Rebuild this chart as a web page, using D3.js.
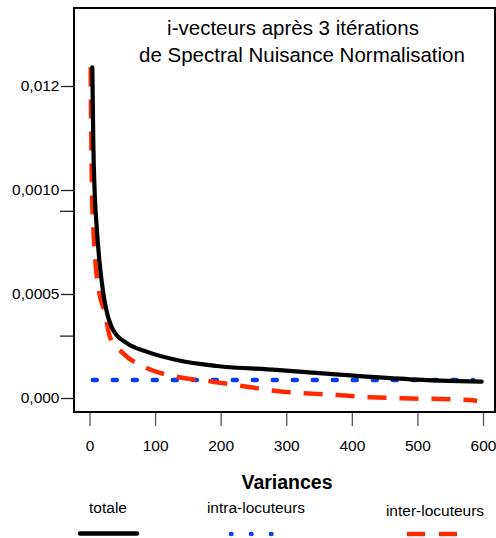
<!DOCTYPE html>
<html><head><meta charset="utf-8">
<script src="https://cdn.jsdelivr.net/npm/d3@7"></script>
<style>body{margin:0;background:#fff}svg{display:block}text{font-family:"Liberation Sans",Arial,Helvetica,sans-serif}</style>
</head><body>
<svg id="c" width="496" height="538"></svg>
<script>
// ---- data ----
const titleLines = ["i-vecteurs après 3 itérations", "de Spectral Nuisance Normalisation"];
const xTicks = [0, 100, 200, 300, 400, 500, 600];
const yTickValues = [0, 0.0005, 0.0010, 0.0015];
const yTickLabels = ["0,000", "0,0005", "0,0010", "0,012"];
const yMinorTicks = [0.0003, 0.0009];

const totaleX = [4.3, 5.8, 7.9, 11, 15, 21, 25, 36, 57, 87, 133, 194, 285, 386, 489, 598];
const totaleY = [0.00159, 0.001226, 0.000986, 0.000822, 0.000663, 0.000505, 0.000433, 0.000327, 0.000264, 0.000223, 0.000183, 0.000154, 0.000135, 0.000111, 0.0000899, 0.0000784];

const intraX = [5, 100, 200, 300, 400, 500, 585];
const intraY = [0.0000865, 0.0000865, 0.0000865, 0.0000865, 0.0000865, 0.0000865, 0.0000865];

const interX = [1.8, 3.8, 5.8, 8.8, 15, 23.6, 31, 51, 87, 133, 188, 240, 285, 377, 428, 478, 580, 591];
const interY = [0.00159, 0.000986, 0.000822, 0.000663, 0.000505, 0.000409, 0.000295, 0.000216, 0.000144, 0.000102, 0.0000784, 0.0000543, 0.0000337, 0.0000144, 0.0000034, -0.0000014, -0.0000096, -0.0000144];

const legendNames = ["totale", "intra-locuteurs", "inter-locuteurs"];

// ---- layout ----
const svg = d3.select("#c");
const frame = {l: 74, t: 8, r: 495, b: 412};
const x = d3.scaleLinear().domain([0, 600]).range([89.5, 483]);
const y = d3.scaleLinear().domain([0, 0.0015]).range([398, 86]);

// frame
svg.append("rect").attr("x", frame.l).attr("y", frame.t)
  .attr("width", frame.r - frame.l).attr("height", frame.b - frame.t)
  .attr("fill", "none").attr("stroke", "#000").attr("stroke-width", 2);

// y axis ticks
const yAxis = d3.axisLeft(y).tickValues(yTickValues)
  .tickFormat((d, i) => yTickLabels[i]).tickSize(13).tickPadding(1.5);
const gy = svg.append("g").attr("transform", `translate(${frame.l},0)`).call(yAxis);
gy.select(".domain").remove();
gy.selectAll(".tick line").attr("stroke", "#222").attr("stroke-width", 1.3);
gy.selectAll(".tick text").attr("font-size", 15.5).attr("fill", "#000")
  .attr("font-family", '"Liberation Sans",Arial,sans-serif');
const yMinor = d3.axisLeft(y).tickValues(yMinorTicks).tickFormat("").tickSize(14);
const gym = svg.append("g").attr("transform", `translate(${frame.l},0)`).call(yMinor);
gym.select(".domain").remove();
gym.selectAll(".tick line").attr("stroke", "#222").attr("stroke-width", 1.3);

// x axis
const xAxis = d3.axisBottom(x).tickValues(xTicks).tickSize(13).tickPadding(14);
const gx = svg.append("g").attr("transform", `translate(0,${frame.b + 1})`).call(xAxis);
gx.select(".domain").remove();
gx.selectAll(".tick line").attr("stroke", "#555").attr("stroke-width", 1.3);
gx.selectAll(".tick text").attr("font-size", 15.5).attr("fill", "#000")
  .attr("font-family", '"Liberation Sans",Arial,sans-serif');

// x title
svg.append("text").attr("x", 287).attr("y", 489).attr("text-anchor", "middle")
  .attr("font-size", 19.5).attr("font-weight", "bold").text("Variances");

// title
const titleX = [293, 302];
svg.selectAll("text.title").data(titleLines).join("text").attr("class", "title")
  .attr("x", (d, i) => titleX[i]).attr("y", (d, i) => 35 + i * 27).attr("text-anchor", "middle")
  .attr("font-size", 20.5).attr("fill", "#000").text(d => d);

// lines
const line = d3.line().x(d => x(d[0])).y(d => y(d[1])).curve(d3.curveMonotoneX);
const g = svg.append("g");
g.append("path").datum(intraX.map((v, i) => [v, intraY[i]])).attr("d", line)
  .attr("fill", "none").attr("stroke", "#0a3cf0").attr("stroke-width", 4.5)
  .attr("stroke-dasharray", "4,16").attr("stroke-linecap", "round");
g.append("path").datum(interX.map((v, i) => [v, interY[i]])).attr("d", line)
  .attr("fill", "none").attr("stroke", "#ff2a00").attr("stroke-width", 4.5)
  .attr("stroke-dasharray", "19,13");
g.append("path").datum(totaleX.map((v, i) => [v, totaleY[i]])).attr("d", line)
  .attr("fill", "none").attr("stroke", "#000").attr("stroke-width", 4.2)
  .attr("stroke-linecap", "round");

// legend
const legX = [108, 256, 435];
const legY = [513, 513, 516];
svg.selectAll("text.leg").data(legendNames).join("text").attr("class", "leg")
  .attr("x", (d, i) => legX[i]).attr("y", (d, i) => legY[i]).attr("text-anchor", "middle")
  .attr("font-size", 15.5).attr("fill", "#000").text(d => d);
svg.append("line").attr("x1", 80).attr("x2", 137).attr("y1", 533.5).attr("y2", 533.5)
  .attr("stroke", "#000").attr("stroke-width", 4.5).attr("stroke-linecap", "round");
svg.append("line").attr("x1", 231).attr("x2", 275).attr("y1", 534).attr("y2", 534)
  .attr("stroke", "#0a3cf0").attr("stroke-width", 4.5).attr("stroke-dasharray", "0.5,19.5")
  .attr("stroke-linecap", "round");
svg.append("line").attr("x1", 407).attr("x2", 459).attr("y1", 534).attr("y2", 534)
  .attr("stroke", "#ff2a00").attr("stroke-width", 4.5).attr("stroke-dasharray", "18,14");
</script>
</body></html>
